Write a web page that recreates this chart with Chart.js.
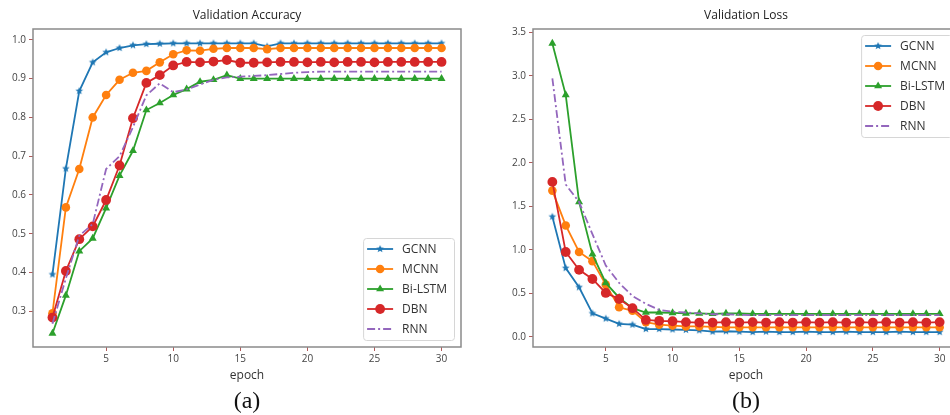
<!DOCTYPE html>
<html lang="en">
<head>
  <meta charset="UTF-8" />
  <title>Validation Accuracy / Validation Loss</title>
  <script src="https://cdn.jsdelivr.net/npm/chart.js"></script>
  <style>
    body { margin: 0; width: 950px; height: 415px; overflow: hidden; position: relative; background: #fff; }
    .panel { position: absolute; top: 0; height: 390px; }
    .cap { position: absolute; top: 400px; transform: translate(-50%, -50%); font: 24px "Liberation Serif", serif; color: #111; }
  </style>
</head>
<body>
<div class="panel" style="left:0;width:480px"><canvas id="graficoAcc"></canvas></div>
<div class="panel" style="left:500px;width:478px"><canvas id="graficoLoss"></canvas></div>
<div class="cap" style="left:247px">(a)</div>
<div class="cap" style="left:746px">(b)</div>

<script>
  const epochs = [1, 2, 3, 4, 5, 6, 7, 8, 9, 10, 11, 12, 13, 14, 15, 16, 17, 18, 19, 20, 21, 22, 23, 24, 25, 26, 27, 28, 29, 30];
  const modelos = ["GCNN", "MCNN", "Bi-LSTM", "DBN", "RNN"];

  const accGcnn   = [0.395, 0.668, 0.868, 0.942, 0.968, 0.979, 0.986, 0.989, 0.990, 0.991, 0.991, 0.991, 0.991, 0.991, 0.991, 0.991, 0.983, 0.991, 0.991, 0.991, 0.991, 0.991, 0.991, 0.991, 0.991, 0.991, 0.991, 0.991, 0.991, 0.991];
  const accMcnn   = [0.295, 0.568, 0.667, 0.800, 0.858, 0.897, 0.915, 0.920, 0.942, 0.963, 0.973, 0.972, 0.977, 0.979, 0.979, 0.979, 0.976, 0.979, 0.979, 0.979, 0.979, 0.979, 0.979, 0.979, 0.979, 0.979, 0.979, 0.979, 0.979, 0.979];
  const accBilstm = [0.243, 0.341, 0.455, 0.488, 0.566, 0.650, 0.714, 0.819, 0.837, 0.858, 0.873, 0.892, 0.897, 0.909, 0.900, 0.900, 0.900, 0.900, 0.900, 0.900, 0.900, 0.900, 0.900, 0.900, 0.900, 0.900, 0.900, 0.900, 0.900, 0.900];
  const accDbn    = [0.284, 0.404, 0.486, 0.519, 0.587, 0.676, 0.798, 0.889, 0.909, 0.934, 0.943, 0.942, 0.944, 0.948, 0.941, 0.941, 0.942, 0.943, 0.943, 0.942, 0.943, 0.942, 0.943, 0.943, 0.942, 0.943, 0.943, 0.943, 0.943, 0.943];
  const accRnn    = [0.268, 0.385, 0.495, 0.525, 0.667, 0.700, 0.775, 0.857, 0.888, 0.865, 0.872, 0.885, 0.897, 0.903, 0.905, 0.907, 0.909, 0.912, 0.915, 0.917, 0.918, 0.918, 0.918, 0.918, 0.918, 0.918, 0.918, 0.918, 0.918, 0.918];

  const lossGcnn   = [1.38, 0.79, 0.57, 0.27, 0.21, 0.15, 0.14, 0.09, 0.09, 0.085, 0.08, 0.075, 0.06, 0.065, 0.06, 0.055, 0.06, 0.055, 0.055, 0.06, 0.055, 0.055, 0.06, 0.055, 0.055, 0.055, 0.06, 0.055, 0.055, 0.055];
  const lossMcnn   = [1.68, 1.28, 0.975, 0.87, 0.60, 0.34, 0.30, 0.17, 0.14, 0.13, 0.12, 0.12, 0.115, 0.11, 0.11, 0.11, 0.11, 0.11, 0.11, 0.11, 0.11, 0.11, 0.11, 0.11, 0.11, 0.11, 0.11, 0.11, 0.11, 0.11];
  const lossBilstm = [3.37, 2.78, 1.55, 0.95, 0.62, 0.45, 0.33, 0.28, 0.28, 0.275, 0.27, 0.27, 0.265, 0.27, 0.27, 0.265, 0.265, 0.265, 0.265, 0.265, 0.265, 0.265, 0.265, 0.265, 0.265, 0.265, 0.265, 0.265, 0.265, 0.265];
  const lossDbn    = [1.78, 0.975, 0.77, 0.665, 0.505, 0.435, 0.33, 0.195, 0.185, 0.18, 0.17, 0.165, 0.165, 0.17, 0.165, 0.17, 0.165, 0.17, 0.165, 0.17, 0.165, 0.17, 0.165, 0.17, 0.165, 0.17, 0.165, 0.17, 0.165, 0.17];
  const lossRnn    = [2.97, 1.75, 1.55, 1.18, 0.82, 0.62, 0.47, 0.38, 0.31, 0.29, 0.28, 0.27, 0.26, 0.26, 0.255, 0.25, 0.25, 0.25, 0.25, 0.25, 0.25, 0.25, 0.25, 0.25, 0.25, 0.25, 0.25, 0.25, 0.25, 0.25];

  const epochTicks = [5, 10, 15, 20, 25, 30];
  const accTicks = [0.3, 0.4, 0.5, 0.6, 0.7, 0.8, 0.9, 1.0];
  const lossTicks = [0.0, 0.5, 1.0, 1.5, 2.0, 2.5, 3.0, 3.5];

  const colores = ["#1f77b4", "#ff7f0e", "#2ca02c", "#d62728", "#9467bd"];
  const fuente = '"Open Sans", sans-serif';

  // estrella rellena tipo marcador "*" de matplotlib
  function estrella(color, r) {
    const c = document.createElement("canvas");
    const s = Math.ceil(r * 2 + 2);
    c.width = s; c.height = s;
    const g = c.getContext("2d");
    g.fillStyle = color;
    g.beginPath();
    for (let k = 0; k < 10; k++) {
      const rr = k % 2 ? r * 0.45 : r;
      const a = -Math.PI / 2 + k * Math.PI / 5;
      g.lineTo(s / 2 + rr * Math.cos(a), s / 2 + rr * Math.sin(a));
    }
    g.closePath();
    g.fill();
    return c;
  }
  const starImg = estrella(colores[0], 4);
  const estilos = [starImg, "circle", "triangle", "circle", false];
  const radios = [4, 4.3, 4.6, 4.9, 0];

  function serie(valores, i) {
    return {
      label: modelos[i],
      data: epochs.map((e, k) => ({ x: e, y: valores[k] })),
      borderColor: colores[i],
      backgroundColor: colores[i],
      borderWidth: 1.8,
      borderDash: i === 4 ? [8, 3, 2, 3] : [],
      pointStyle: estilos[i],
      pointRadius: radios[i],
      pointBorderWidth: 0,
      order: 5 - i,
      tension: 0
    };
  }

  // marco del área de trazado
  const marco = {
    id: "marco",
    afterDatasetsDraw(chart) {
      const { ctx, chartArea: a } = chart;
      ctx.save();
      ctx.strokeStyle = "#8a8a8a";
      ctx.lineWidth = 1.5;
      ctx.strokeRect(a.left, a.top, a.right - a.left, a.bottom - a.top);
      ctx.restore();
    }
  };

  // leyenda dentro del área, con línea + marcador
  const leyenda = {
    id: "leyenda",
    afterDraw(chart, args, opts) {
      const { ctx, chartArea: a } = chart;
      const sets = chart.data.datasets;
      ctx.save();
      ctx.font = '12px ' + fuente;
      const tw = Math.max(...sets.map(d => ctx.measureText(d.label).width));
      const w = 39 + tw + 7;
      const h = 22 + (sets.length - 1) * 20;
      const x = a.right - 7 - w;
      const y = opts.esquina === "abajo" ? a.bottom - 7 - h : a.top + 6;
      ctx.fillStyle = "rgba(255,255,255,0.85)";
      ctx.strokeStyle = "#d6d6d6";
      ctx.lineWidth = 1;
      ctx.beginPath();
      ctx.roundRect(x + 0.5, y + 0.5, w, h, 3);
      ctx.fill();
      ctx.stroke();
      sets.forEach((d, i) => {
        const cy = y + 11 + i * 20;
        ctx.strokeStyle = d.borderColor;
        ctx.lineWidth = 1.8;
        ctx.setLineDash(d.borderDash);
        ctx.beginPath();
        ctx.moveTo(x + 4, cy);
        ctx.lineTo(x + 30, cy);
        ctx.stroke();
        ctx.setLineDash([]);
        const mx = x + 17;
        ctx.fillStyle = d.backgroundColor;
        if (d.pointStyle === "circle") {
          ctx.beginPath(); ctx.arc(mx, cy, d.pointRadius, 0, Math.PI * 2); ctx.fill();
        } else if (d.pointStyle === "triangle") {
          const r = d.pointRadius;
          ctx.beginPath();
          ctx.moveTo(mx, cy - r);
          ctx.lineTo(mx + r * 0.866, cy + r * 0.5);
          ctx.lineTo(mx - r * 0.866, cy + r * 0.5);
          ctx.closePath(); ctx.fill();
        } else if (d.pointStyle) {
          const im = d.pointStyle;
          ctx.drawImage(im, mx - im.width / 2, cy - im.height / 2);
        }
        ctx.fillStyle = "#333";
        ctx.textBaseline = "middle";
        ctx.textAlign = "left";
        ctx.fillText(d.label, x + 39, cy + 1);
      });
      ctx.restore();
    }
  };

  function ejes(yMin, yMax, yTicks) {
    const rejilla = { drawOnChartArea: false, tickLength: 4, tickColor: "#b05a5a", tickWidth: 1 };
    return {
      x: {
        type: "linear", min: -0.45, max: 31.45,
        afterBuildTicks: s => { s.ticks = epochTicks.map(v => ({ value: v })); },
        afterFit: s => { s.height = 43; },
        grid: rejilla,
        border: { display: false },
        ticks: { font: { family: fuente, size: 10 }, color: "#444", padding: 2, maxRotation: 0, autoSkip: false },
        title: { display: true, text: "epoch", font: { family: fuente, size: 12 }, color: "#333", padding: { top: 0, bottom: 7 } }
      },
      y: {
        type: "linear", min: yMin, max: yMax,
        afterBuildTicks: s => { s.ticks = yTicks.map(v => ({ value: v })); },
        afterFit: s => { s.width = 33; },
        grid: rejilla,
        border: { display: false },
        ticks: { font: { family: fuente, size: 10 }, color: "#444", padding: 3, callback: v => v.toFixed(1) }
      }
    };
  }

  function opciones(titulo, yMin, yMax, yTicks, esquina) {
    return {
      responsive: true,
      maintainAspectRatio: false,
      animation: false,
      layout: { padding: { left: 0, right: 19, top: 0, bottom: 0 } },
      scales: ejes(yMin, yMax, yTicks),
      plugins: {
        legend: { display: false },
        tooltip: { enabled: false },
        title: { display: true, text: titulo, fullSize: false, color: "#222", font: { family: fuente, size: 12, weight: "normal" }, padding: { top: 8, bottom: 6.6 } },
        leyenda: { esquina: esquina }
      }
    };
  }

  new Chart(document.getElementById("graficoAcc").getContext("2d"), {
    type: "line",
    data: { datasets: [accGcnn, accMcnn, accBilstm, accDbn, accRnn].map(serie) },
    options: opciones("Validation Accuracy", 0.208, 1.028, accTicks, "abajo"),
    plugins: [marco, leyenda]
  });

  new Chart(document.getElementById("graficoLoss").getContext("2d"), {
    type: "line",
    data: { datasets: [lossGcnn, lossMcnn, lossBilstm, lossDbn, lossRnn].map(serie) },
    options: opciones("Validation Loss", -0.116, 3.536, lossTicks, "arriba"),
    plugins: [marco, leyenda]
  });
</script>
</body>
</html>
